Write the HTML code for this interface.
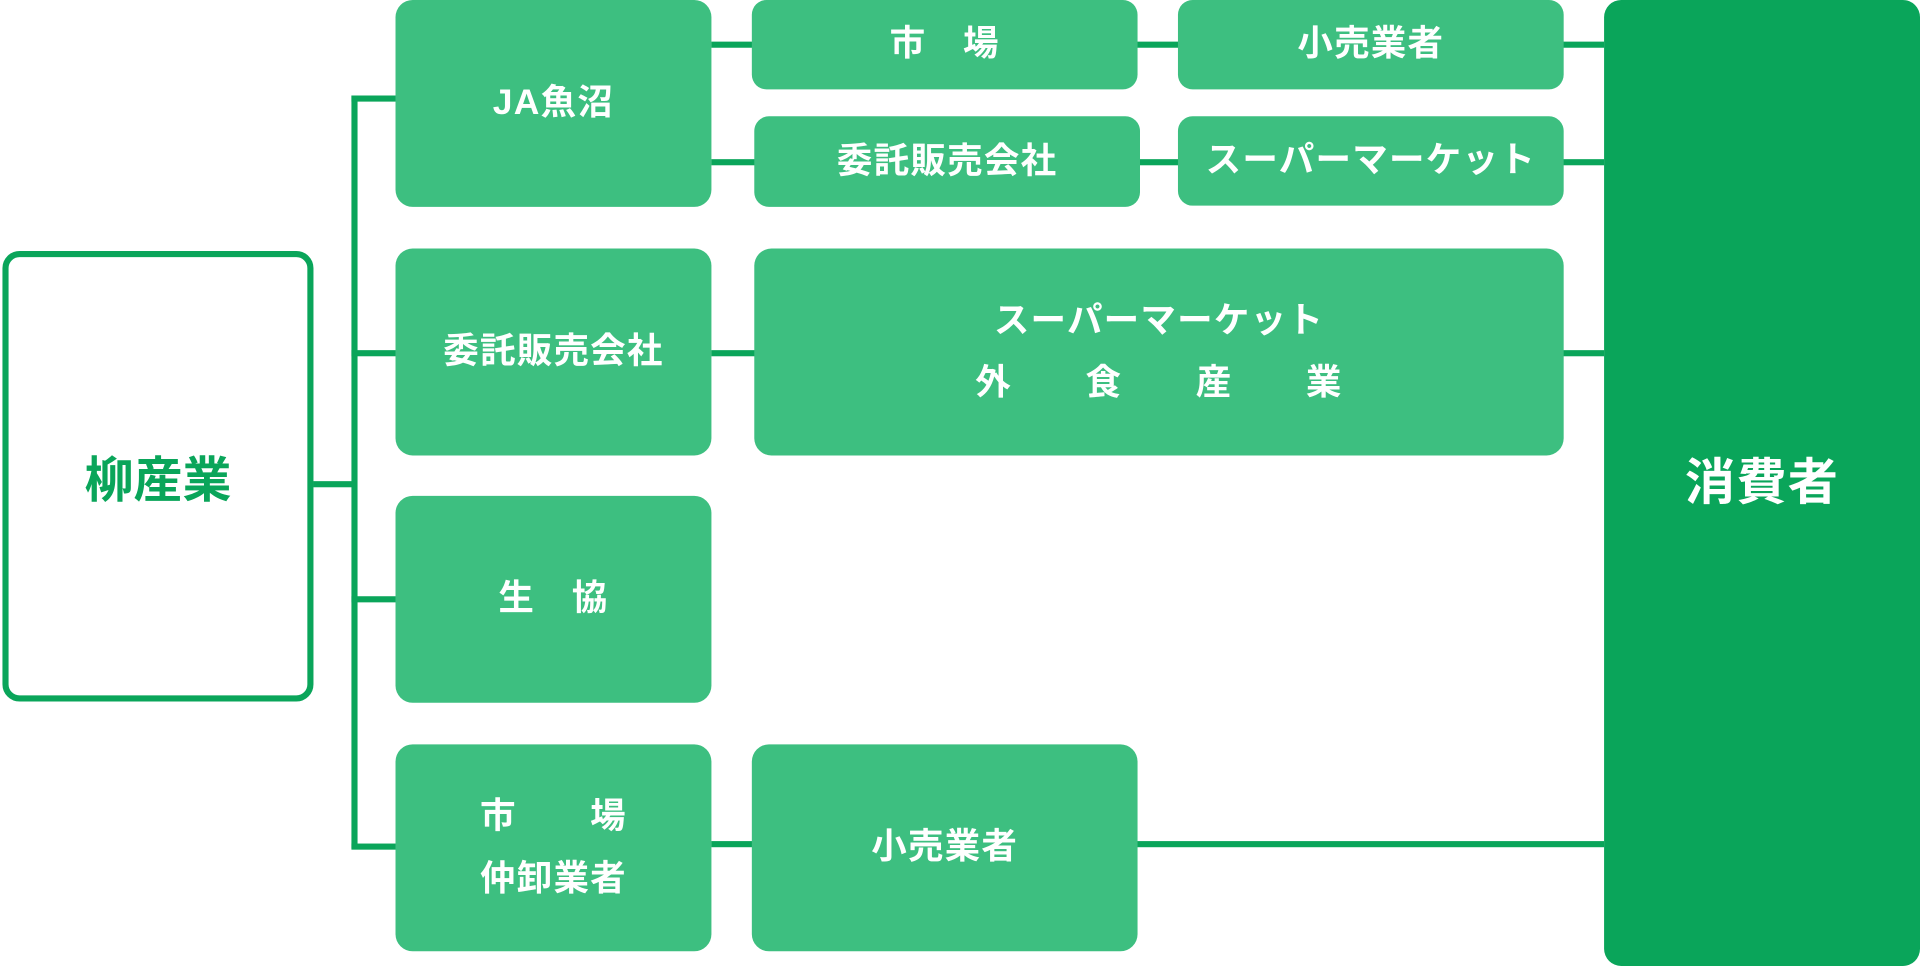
<!DOCTYPE html>
<html><head><meta charset="utf-8"><style>
html,body{margin:0;padding:0;background:#fff;width:1920px;height:966px;overflow:hidden}
#s{position:absolute;left:0;top:0;width:1568px;height:789px;transform:scale(1.22449,1.2243);transform-origin:0 0}
.b{position:absolute;background:#3dbf80;border-radius:14px;color:#fff;font-family:"Liberation Sans","Noto Sans CJK JP",sans-serif;font-weight:700;font-size:29px;letter-spacing:1px;display:flex;align-items:center;justify-content:center;text-align:center;line-height:1.75;white-space:pre}
.l{position:absolute;background:#0aa55a}
</style></head><body><div id="s">
<div style="position:absolute;left:2px;top:205px;width:244px;height:358px;border:5px solid #0aa55a;border-radius:14px;background:#fff;color:#0aa55a;font-family:'Liberation Sans','Noto Sans CJK JP',sans-serif;font-weight:700;font-size:40px;display:flex;align-items:center;justify-content:center">柳産業</div>
<div class="l" style="left:256px;top:393px;width:35px;height:5px"></div>
<div class="l" style="left:287px;top:78px;width:5px;height:615px"></div>
<div class="l" style="left:287px;top:78px;width:36px;height:5px"></div>
<div class="l" style="left:287px;top:286px;width:36px;height:5px"></div>
<div class="l" style="left:287px;top:487px;width:36px;height:5px"></div>
<div class="l" style="left:287px;top:689px;width:36px;height:5px"></div>
<div class="l" style="left:581px;top:34px;width:729px;height:5px"></div>
<div class="l" style="left:581px;top:130px;width:729px;height:5px"></div>
<div class="l" style="left:581px;top:286px;width:729px;height:5px"></div>
<div class="l" style="left:581px;top:687px;width:729px;height:5px"></div>
<div class="b" style="left:323px;top:0;width:258px;height:169px">JA魚沼</div>
<div class="b" style="left:323px;top:203px;width:258px;height:169px">委託販売会社</div>
<div class="b" style="left:323px;top:405px;width:258px;height:169px">生　協</div>
<div class="b" style="left:323px;top:608px;width:258px;height:169px">市　　場
仲卸業者</div>
<div class="b" style="left:614px;top:0;width:315px;height:73px;border-radius:12px">市　場</div>
<div class="b" style="left:616px;top:95px;width:315px;height:74px;border-radius:12px">委託販売会社</div>
<div class="b" style="left:962px;top:0;width:315px;height:73px;border-radius:12px">小売業者</div>
<div class="b" style="left:962px;top:95px;width:315px;height:73px;border-radius:12px">スーパーマーケット</div>
<div class="b" style="left:616px;top:203px;width:661px;height:169px">スーパーマーケット
外　　食　　産　　業</div>
<div class="b" style="left:614px;top:608px;width:315px;height:169px">小売業者</div>
<div class="b" style="left:1310px;top:0;width:258px;height:789px;background:#0aa55a;font-size:41px">消費者</div>
</div></body></html>
